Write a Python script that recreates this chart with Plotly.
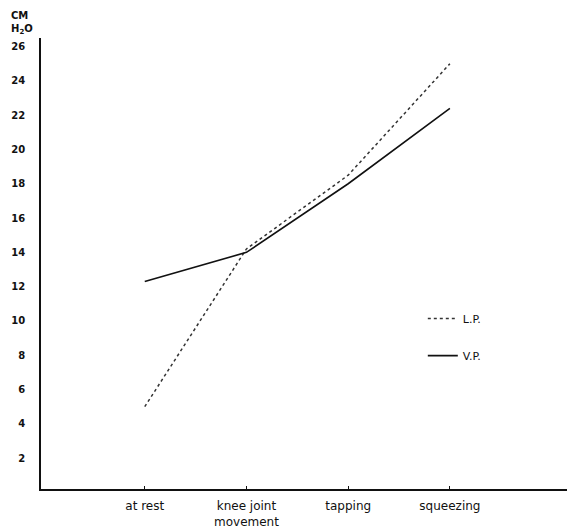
import plotly.graph_objects as go

categories = ["at rest", "knee joint<br>movement", "tapping", "squeezing"]
x_pos = [0, 1, 2, 3]
lp_values = [5.0, 14.2, 18.5, 25.0]
vp_values = [12.3, 14.0, 18.0, 22.4]
y_ticks = [2, 4, 6, 8, 10, 12, 14, 16, 18, 20, 22, 24, 26]

FONT = "DejaVu Sans"

fig = go.Figure()
fig.add_trace(go.Scatter(
    x=x_pos, y=lp_values, mode="lines", name="L.P.",
    line=dict(color="#333333", width=1.5, dash="dot"), legendgroup="a"))
fig.add_trace(go.Scatter(
    x=x_pos, y=vp_values, mode="lines", name="V.P.",
    line=dict(color="#111111", width=1.6), legendgroup="b"))

# page body has an 8px margin, so the figure is sized to fill the remaining window
fig.update_layout(
    width=567, height=524,
    margin=dict(l=33, r=0, t=30, b=43, autoexpand=False),
    paper_bgcolor="white", plot_bgcolor="white",
    font=dict(family=FONT, color="#111111", size=11),
    showlegend=True,
    legend=dict(x=0.715, y=0.41, xanchor="left", yanchor="top",
                bgcolor="rgba(0,0,0,0)", traceorder="grouped",
                tracegroupgap=18, font=dict(size=11)),
    xaxis=dict(range=[-1.02, 4.23], tickvals=x_pos, ticktext=categories,
               automargin=False,
               showgrid=False, zeroline=False, showline=True, linecolor="#111111",
               linewidth=1.5, ticks="inside", ticklen=3, tickcolor="#111111",
               ticklabelstandoff=5,
               tickfont=dict(size=12, family=FONT)),
    yaxis=dict(range=[0.2, 26.5], tickvals=y_ticks,
               ticktext=["<b>%d</b>" % v for v in y_ticks],
               automargin=False,
               showgrid=False, zeroline=False, showline=True, linecolor="#111111",
               linewidth=1.5, ticks="", ticklabelstandoff=12,
               tickfont=dict(size=10, family=FONT)),
    annotations=[dict(text="<b>CM<br>H<sub>2</sub>O</b>", xref="paper", yref="paper",
                      x=-0.035, y=1.0, xanchor="center", yanchor="bottom",
                      showarrow=False, align="left", font=dict(size=10, family=FONT))],
)

fig.write_html("out.html")
